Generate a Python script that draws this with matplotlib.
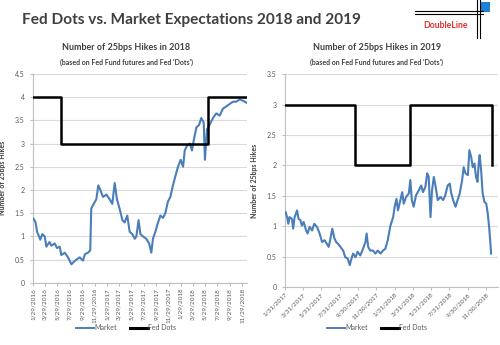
import matplotlib
matplotlib.use("Agg")
import matplotlib.pyplot as plt
import matplotlib.dates as mdates
import pandas as pd
from matplotlib.lines import Line2D
from matplotlib.patches import Rectangle

# ---------------- data: 2018 panel ----------------
market18_dates = [
    "2016-02-01", "2016-02-11", "2016-02-18", "2016-02-28", "2016-03-05", "2016-03-15",
    "2016-03-27", "2016-04-04", "2016-04-20", "2016-04-29", "2016-05-15", "2016-05-27",
    "2016-06-09", "2016-06-17", "2016-07-04", "2016-07-20", "2016-08-06", "2016-08-17",
    "2016-08-30", "2016-09-16", "2016-10-02", "2016-10-12", "2016-10-27", "2016-11-07",
    "2016-11-12", "2016-11-24", "2016-12-07", "2016-12-17", "2016-12-27", "2017-01-09",
    "2017-01-26", "2017-02-11", "2017-02-24", "2017-03-08", "2017-03-19", "2017-04-01",
    "2017-04-15", "2017-04-26", "2017-05-09", "2017-05-21", "2017-06-03", "2017-06-15",
    "2017-06-23", "2017-07-04", "2017-07-13", "2017-07-26", "2017-08-11", "2017-08-25",
    "2017-09-05", "2017-09-13", "2017-09-25", "2017-10-08", "2017-10-20", "2017-11-02",
    "2017-11-13", "2017-11-26", "2017-12-08", "2017-12-21", "2018-01-02", "2018-01-15",
    "2018-01-28", "2018-02-09", "2018-02-17", "2018-02-28", "2018-03-14", "2018-03-25",
    "2018-04-04", "2018-04-16", "2018-04-29", "2018-05-10", "2018-05-22", "2018-05-28",
    "2018-06-07", "2018-06-20", "2018-07-07", "2018-07-23", "2018-08-09", "2018-08-25",
    "2018-09-11", "2018-09-27", "2018-10-14", "2018-10-30", "2018-11-16", "2018-12-02",
    "2018-12-19",
]
market18_values = [
    1.38, 1.30, 1.10, 1.00, 0.93, 1.05,
    1.00, 0.78, 0.88, 0.80, 0.85, 0.75,
    0.78, 0.60, 0.65, 0.55, 0.40, 0.45,
    0.50, 0.55, 0.48, 0.62, 0.65, 0.70,
    1.60, 1.70, 1.80, 2.10, 2.00, 1.85,
    1.90, 1.80, 1.70, 2.15, 1.80, 1.60,
    1.35, 1.30, 1.45, 1.10, 1.05, 0.95,
    1.00, 1.35, 1.05, 1.00, 0.95, 0.85,
    0.65, 0.95, 1.10, 1.30, 1.45, 1.40,
    1.50, 1.75, 1.85, 2.10, 2.30, 2.50,
    2.65, 2.50, 2.85, 2.95, 3.00, 2.85,
    3.10, 3.35, 3.40, 3.55, 3.45, 2.65,
    3.30, 3.40, 3.55, 3.65, 3.60, 3.75,
    3.80, 3.85, 3.90, 3.90, 3.95, 3.92,
    3.88,
]
dots18_dates = ["2016-01-29", "2016-06-15", "2018-06-13", "2018-12-19"]
dots18_values = [4, 3, 4, 4]
ticks18 = ["1/29/2016", "3/29/2016", "5/29/2016", "7/29/2016", "9/29/2016", "11/29/2016",
           "1/29/2017", "3/29/2017", "5/29/2017", "7/29/2017", "9/29/2017", "11/29/2017",
           "1/29/2018", "3/29/2018", "5/29/2018", "7/29/2018", "9/29/2018", "11/29/2018"]

# ---------------- data: 2019 panel ----------------
market19_dates = [
    "2017-02-02", "2017-02-07", "2017-02-11", "2017-02-15", "2017-02-23", "2017-02-27",
    "2017-03-04", "2017-03-12", "2017-03-17", "2017-03-23", "2017-03-28", "2017-04-03",
    "2017-04-11", "2017-04-16", "2017-04-23", "2017-05-01", "2017-05-08", "2017-05-17",
    "2017-05-26", "2017-06-03", "2017-06-11", "2017-06-19", "2017-06-25", "2017-07-01",
    "2017-07-07", "2017-07-14", "2017-07-20", "2017-07-26", "2017-08-03", "2017-08-12",
    "2017-08-19", "2017-08-27", "2017-09-03", "2017-09-07", "2017-09-14", "2017-09-22",
    "2017-09-29", "2017-10-08", "2017-10-17", "2017-10-25", "2017-10-29", "2017-11-03",
    "2017-11-10", "2017-11-19", "2017-11-27", "2017-12-05", "2017-12-14", "2017-12-22",
    "2017-12-30", "2018-01-07", "2018-01-16", "2018-01-25", "2018-01-30", "2018-02-05",
    "2018-02-10", "2018-02-18", "2018-02-24", "2018-03-01", "2018-03-09", "2018-03-18",
    "2018-03-23", "2018-03-28", "2018-04-03", "2018-04-11", "2018-04-20", "2018-04-28",
    "2018-05-04", "2018-05-12", "2018-05-18", "2018-05-23", "2018-05-29", "2018-06-03",
    "2018-06-09", "2018-06-15", "2018-06-22", "2018-07-01", "2018-07-10", "2018-07-17",
    "2018-07-25", "2018-08-01", "2018-08-05", "2018-08-12", "2018-08-20", "2018-08-27",
    "2018-09-03", "2018-09-11", "2018-09-16", "2018-09-22", "2018-09-30", "2018-10-05",
    "2018-10-11", "2018-10-16", "2018-10-22", "2018-10-27", "2018-11-01", "2018-11-05",
    "2018-11-08", "2018-11-13", "2018-11-18", "2018-11-24", "2018-11-30", "2018-12-05",
    "2018-12-10", "2018-12-13", "2018-12-16",
]
market19_values = [
    1.23, 1.15, 1.04, 1.15, 1.12, 0.96,
    1.15, 1.26, 1.12, 1.10, 1.01, 1.07,
    0.93, 0.88, 0.99, 0.93, 1.04, 0.99,
    0.88, 0.74, 0.77, 0.71, 0.66, 0.80,
    0.96, 0.80, 0.74, 0.71, 0.66, 0.60,
    0.49, 0.47, 0.36, 0.44, 0.55, 0.49,
    0.58, 0.52, 0.63, 0.74, 0.88, 0.66,
    0.60, 0.60, 0.55, 0.60, 0.55, 0.60,
    0.63, 0.77, 1.01, 1.15, 1.32, 1.45,
    1.26, 1.43, 1.56, 1.37, 1.48, 1.54,
    1.76, 1.43, 1.32, 1.51, 1.59, 1.67,
    1.56, 1.65, 1.87, 1.81, 1.15, 1.59,
    1.81, 1.65, 1.43, 1.48, 1.43, 1.51,
    1.67, 1.70, 1.56, 1.43, 1.32, 1.43,
    1.54, 1.76, 1.97, 1.87, 1.84, 2.25,
    2.14, 1.97, 2.03, 1.81, 1.73, 2.03,
    2.17, 1.92, 1.54, 1.40, 1.37, 1.21,
    0.96, 0.77, 0.55,
]
dots19_dates = ["2017-01-31", "2017-09-20", "2018-03-21", "2018-12-19"]
dots19_values = [3, 2, 3, 2]
ticks19 = ["1/31/2017", "3/31/2017", "5/31/2017", "7/31/2017", "9/30/2017", "11/30/2017",
           "1/31/2018", "3/31/2018", "5/31/2018", "7/31/2018", "9/30/2018", "11/30/2018"]

# ---------------- style ----------------
BLUE = "#4a7ebb"
GRID = "#d9d9d9"
TXT = "#595959"
FONT = ["Lato", "DejaVu Sans"]
plt.rcParams["font.family"] = FONT

fig = plt.figure(figsize=(5.0, 3.45), dpi=100)
fig.patch.set_facecolor("white")


def panel(rect, m_dates, m_vals, d_dates, d_vals, tick_labels, ymax, xlim, rot):
    ax = fig.add_axes(rect)
    md = pd.to_datetime(m_dates)
    dd = pd.to_datetime(d_dates)
    ax.plot(md, m_vals, color=BLUE, lw=1.5, zorder=3)
    ax.plot(dd, d_vals, color="black", lw=1.8, drawstyle="steps-post", zorder=4)
    ax.set_ylim(0, ymax)
    ax.set_yticks([i * 0.5 for i in range(int(ymax / 0.5) + 1)])
    ax.set_yticklabels([("%g" % (i * 0.5)) for i in range(int(ymax / 0.5) + 1)])
    ax.set_xlim(pd.to_datetime(xlim[0]), pd.to_datetime(xlim[1]))
    tpos = pd.to_datetime(tick_labels, format="%m/%d/%Y")
    ax.set_xticks(tpos)
    if rot == 90:
        ax.set_xticklabels(tick_labels, rotation=90, fontsize=4.6, color=TXT)
    else:
        ax.set_xticklabels(tick_labels, rotation=45, ha="right", rotation_mode="anchor",
                           fontsize=4.6, color=TXT)
    ax.yaxis.grid(True, color=GRID, lw=0.8)
    ax.set_axisbelow(True)
    for s in ("top", "right"):
        ax.spines[s].set_visible(False)
    for s in ("left", "bottom"):
        ax.spines[s].set_color("#bfbfbf")
        ax.spines[s].set_linewidth(0.8)
    ax.tick_params(axis="y", labelsize=5, colors=TXT, length=2, color="#bfbfbf", pad=4)
    ax.tick_params(axis="x", length=2, color="#bfbfbf", pad=1.5)
    ax.set_ylabel("Number of 25bps Hikes", fontsize=5, color="#404040",
                  fontweight="bold", labelpad=6)
    return ax


ax1 = panel([0.066, 0.18, 0.428, 0.606], market18_dates, market18_values,
            dots18_dates, dots18_values, ticks18, 4.5,
            ("2016-01-29", "2018-12-22"), 90)
ax2 = panel([0.57, 0.168, 0.426, 0.617], market19_dates, market19_values,
            dots19_dates, dots19_values, ticks19, 3.5,
            ("2017-01-31", "2019-01-08"), 45)

# panel titles
for cx, yr in ((126, "2018"), (377, "2019")):
    fig.text(cx / 500, 1 - 48 / 345, "Number of 25bps Hikes in " + yr, ha="center",
             va="center", fontsize=6.5, fontweight="bold", color="#404040")
    fig.text(cx / 500, 1 - 62 / 345, "(based on Fed Fund futures and Fed 'Dots')",
             ha="center", va="center", fontsize=5, fontweight="bold", color="#404040")

# legends
for cx in (126, 377):
    h = [Line2D([], [], color=BLUE, lw=1.4), Line2D([], [], color="black", lw=2.2)]
    fig.legend(h, ["Market", "Fed Dots"], loc="center", bbox_to_anchor=(cx / 500, 1 - 328 / 345),
               ncol=2, frameon=False, fontsize=5, handlelength=2.6, handletextpad=0.1,
               columnspacing=1.8, labelcolor=TXT)

# main title
fig.text(22 / 500, 1 - 20 / 345, "Fed Dots vs. Market Expectations 2018 and 2019",
         ha="left", va="center", fontsize=11.1, fontweight="bold", color="#404040")

# logo
W, H = 500, 345
def fx(x):
    return x / W
def fy(y):
    return 1 - y / H
for yy in (10.5, 13.5):
    fig.add_artist(Line2D([fx(415), fx(483)], [fy(yy), fy(yy)], color="black", lw=0.8))
for xx in (476.5, 479.5):
    fig.add_artist(Line2D([fx(xx), fx(xx)], [fy(0), fy(38)], color="black", lw=0.8))
fig.add_artist(Rectangle((fx(480), fy(12)), 10 / W, 10 / H, color="#1f7fd0", lw=0))
fig.text(fx(446), fy(25), "DoubleLine", ha="center", va="center", fontsize=6.3,
         fontweight="bold", color="#e03030")

fig.savefig("out.png", dpi=100, facecolor="white")
